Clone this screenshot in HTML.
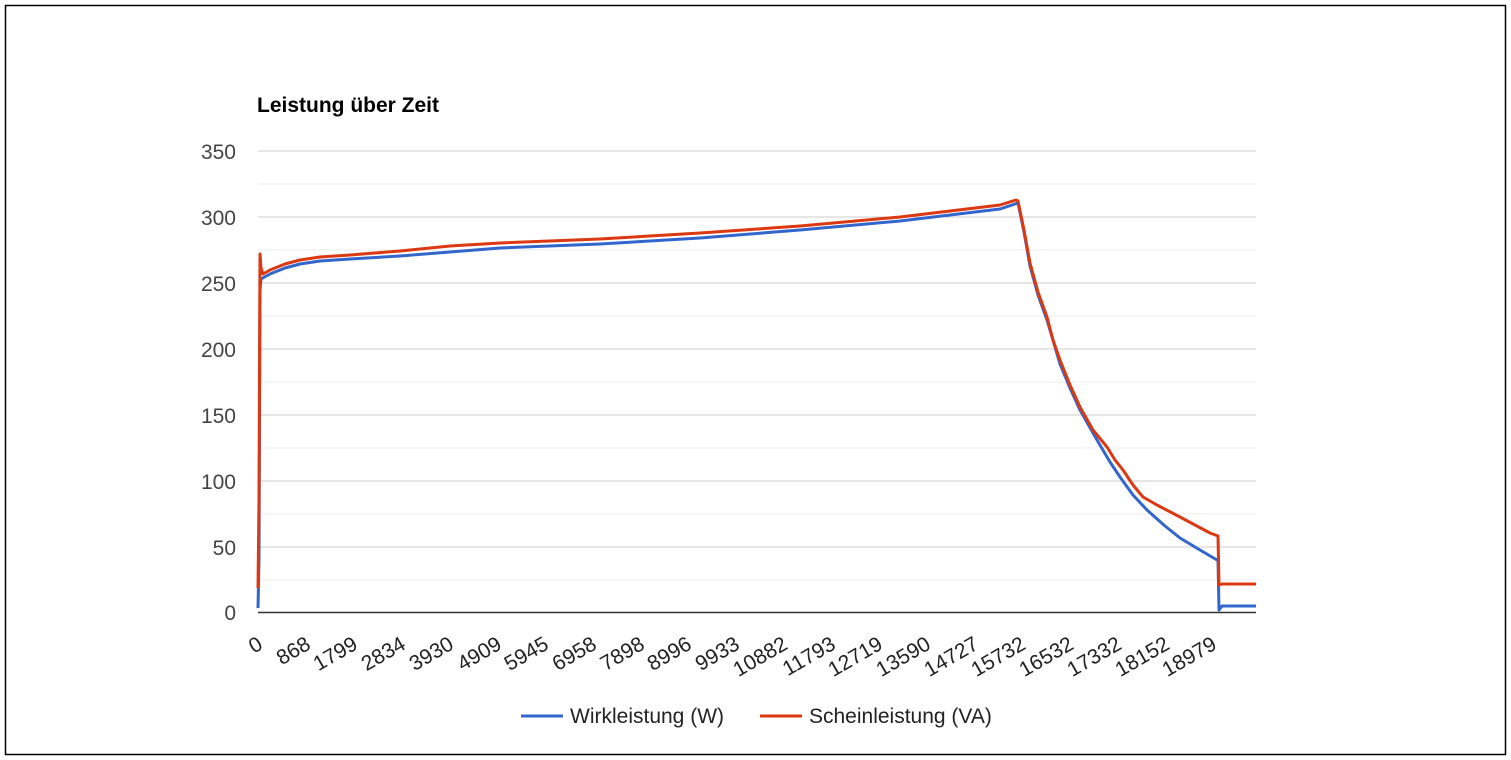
<!DOCTYPE html>
<html><head><style>
body{margin:0;background:#fff;}
svg{display:block;font-family:"Liberation Sans",Arial,sans-serif;}
</style></head><body>
<svg width="1511" height="760" xmlns="http://www.w3.org/2000/svg">
<rect x="0" y="0" width="1511" height="760" fill="#fff"/>
<rect x="5.5" y="5.5" width="1500" height="749" fill="none" stroke="#000" stroke-width="1.5"/>
<text x="257" y="112" font-size="21" font-weight="bold" fill="#000">Leistung über Zeit</text>
<g stroke="#ebebeb" stroke-width="1">
<line x1="258" x2="1256" y1="184" y2="184"/><line x1="258" x2="1256" y1="250" y2="250"/>
<line x1="258" x2="1256" y1="316" y2="316"/><line x1="258" x2="1256" y1="382" y2="382"/>
<line x1="258" x2="1256" y1="448" y2="448"/><line x1="258" x2="1256" y1="514" y2="514"/>
<line x1="258" x2="1256" y1="580" y2="580"/>
</g>
<g stroke="#cccccc" stroke-width="1">
<line x1="258" x2="1256" y1="151" y2="151"/><line x1="258" x2="1256" y1="217" y2="217"/>
<line x1="258" x2="1256" y1="283" y2="283"/><line x1="258" x2="1256" y1="349" y2="349"/>
<line x1="258" x2="1256" y1="415" y2="415"/><line x1="258" x2="1256" y1="481" y2="481"/>
<line x1="258" x2="1256" y1="547" y2="547"/>
</g>
<g font-size="21" fill="#444" text-anchor="end">
<text x="236" y="159">350</text><text x="236" y="225">300</text><text x="236" y="291">250</text>
<text x="236" y="357">200</text><text x="236" y="423">150</text><text x="236" y="489">100</text>
<text x="236" y="555">50</text><text x="236" y="620">0</text>
</g>
<g fill="none" stroke-width="3" stroke-linejoin="round">
<polyline stroke="#3366cc" points="258,608 259,560 260,290 261,279 270,274 285,268 300,264 320,261 350,259 400,256 450,252 500,248 600,244 700,238 800,230 900,221 1000,209 1018,203 1024,232 1030,266 1038,295 1047,320 1060,364 1070,388 1080,410 1097,440 1110,462 1120,477 1133,495 1147,510 1165,526 1180,538 1200,550 1217,560 1218,560 1219,610 1222,606 1256,606"/>
<polyline stroke="#dc3912" points="258,588 259,500 260,254 261,268 263,274 270,270 285,264 300,260 320,257 350,255 400,251 450,246 500,243 600,239 700,233 800,226 900,217 1000,205 1016,200 1018,201 1024,230 1030,263 1038,292 1047,317 1053,340 1060,360 1070,385 1080,407 1093,430 1107,447 1115,460 1123,470 1133,485 1143,497 1157,505 1180,517 1210,533 1218,536 1219,585 1222,584 1256,584"/>
</g>
<line x1="258" x2="1256" y1="612.5" y2="612.5" stroke="#333" stroke-width="1.5"/>
<g font-size="21" fill="#222" text-anchor="end">
<text transform="translate(264,648) rotate(-30)">0</text>
<text transform="translate(312,648) rotate(-30)">868</text>
<text transform="translate(359,648) rotate(-30)">1799</text>
<text transform="translate(407,648) rotate(-30)">2834</text>
<text transform="translate(455,648) rotate(-30)">3930</text>
<text transform="translate(503,648) rotate(-30)">4909</text>
<text transform="translate(550,648) rotate(-30)">5945</text>
<text transform="translate(598,648) rotate(-30)">6958</text>
<text transform="translate(646,648) rotate(-30)">7898</text>
<text transform="translate(693,648) rotate(-30)">8996</text>
<text transform="translate(741,648) rotate(-30)">9933</text>
<text transform="translate(789,648) rotate(-30)">10882</text>
<text transform="translate(837,648) rotate(-30)">11793</text>
<text transform="translate(884,648) rotate(-30)">12719</text>
<text transform="translate(932,648) rotate(-30)">13590</text>
<text transform="translate(980,648) rotate(-30)">14727</text>
<text transform="translate(1027,648) rotate(-30)">15732</text>
<text transform="translate(1075,648) rotate(-30)">16532</text>
<text transform="translate(1123,648) rotate(-30)">17332</text>
<text transform="translate(1171,648) rotate(-30)">18152</text>
<text transform="translate(1218,648) rotate(-30)">18979</text>
</g>
<line x1="521" x2="563" y1="716" y2="716" stroke="#3366cc" stroke-width="3"/>
<text x="570" y="723" font-size="21" fill="#222">Wirkleistung (W)</text>
<line x1="760" x2="802" y1="716" y2="716" stroke="#dc3912" stroke-width="3"/>
<text x="809" y="723" font-size="21" fill="#222">Scheinleistung (VA)</text>
</svg>
</body></html>
